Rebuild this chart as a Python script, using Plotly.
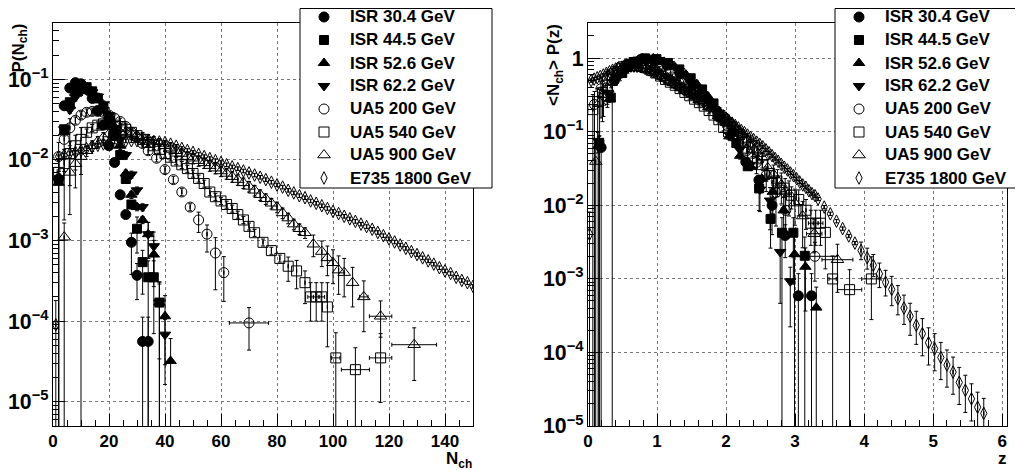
import plotly.graph_objects as go

# ---------------- data ----------------
SERIES = ["ISR 30.4 GeV", "ISR 44.5 GeV", "ISR 52.6 GeV", "ISR 62.2 GeV",
          "UA5 200 GeV", "UA5 540 GeV", "UA5 900 GeV", "E735 1800 GeV"]

isr304_n = [2, 4, 6, 8, 10, 12, 14, 16, 18, 20, 22, 24, 26, 28, 30, 32, 34]
isr304_p = [0.0058, 0.047, 0.078, 0.091, 0.088, 0.076, 0.058, 0.041, 0.027, 0.015,
            0.0093, 0.0037, 0.0021, 0.00095, 0.00037, 0.000056, 0.000056]

isr445_n = [2, 4, 6, 8, 10, 12, 14, 16, 18, 20, 22, 24, 26, 28, 30, 32, 34, 36, 38]
isr445_p = [0.0056, 0.024, 0.052, 0.073, 0.082, 0.080, 0.071, 0.058, 0.044, 0.031,
            0.020, 0.0115, 0.0058, 0.0028, 0.0014, 0.00054, 0.00035, 0.00035, 0.00017]

isr526_n = [2, 4, 6, 8, 10, 12, 14, 16, 18, 20, 22, 24, 26, 28, 30, 32, 34, 36, 38, 40, 42]
isr526_p = [0.0052, 0.022, 0.047, 0.068, 0.078, 0.078, 0.070, 0.059, 0.047, 0.035,
            0.024, 0.015, 0.0068, 0.0037, 0.0026, 0.0018, 0.0012, 0.00067, 0.00017,
            0.000115, 0.000032]

isr622_n = [2, 4, 6, 8, 10, 12, 14, 16, 18, 20, 22, 24, 26, 28, 30, 32, 34, 36, 38, 40]
isr622_p = [0.0055, 0.024, 0.042, 0.060, 0.070, 0.073, 0.069, 0.061, 0.049, 0.036,
            0.025, 0.018, 0.0115, 0.0066, 0.0042, 0.0026, 0.0012, 0.00085, 0.00017,
            0.000068]

ua5200_n = [2, 4, 6, 8, 10, 12, 14, 16, 18, 20, 22, 24, 26, 28, 30, 32, 34, 37, 40,
            43, 46, 49, 52, 55, 58, 61, 70]
ua5200_p = [0.011, 0.018, 0.025, 0.031, 0.036, 0.039, 0.040, 0.040, 0.039, 0.036,
            0.033, 0.030, 0.026, 0.022, 0.019, 0.016, 0.013, 0.0105, 0.0076, 0.0057,
            0.0040, 0.0026, 0.0018, 0.0012, 0.0007, 0.0004, 0.000095]

ua5540_n = [2, 4, 6, 8, 10, 12, 14, 16, 18, 20, 22, 24, 26, 28, 30, 32, 34, 36, 38,
            40, 42, 44, 46, 48, 50, 52, 54, 56, 58, 60, 62, 64, 66, 68, 70, 72, 75,
            78, 81, 84, 87, 90, 92, 94, 96, 98, 101, 108, 117]
ua5540_p = [0.007, 0.009, 0.012, 0.015, 0.018, 0.022, 0.025, 0.027, 0.028, 0.028,
            0.027, 0.026, 0.024, 0.022, 0.020, 0.018, 0.0165, 0.015, 0.0135, 0.012,
            0.0108, 0.0097, 0.0087, 0.0078, 0.0068, 0.0059, 0.0051, 0.0040, 0.0035,
            0.0031, 0.0028, 0.0025, 0.0021, 0.0018, 0.0015, 0.00125, 0.00095,
            0.00075, 0.0006, 0.00048, 0.00042, 0.0003, 0.0002, 0.0002, 0.0002,
            0.00015, 0.000035, 0.000025, 0.000035]

ua5900_n = [4, 6, 8, 10, 12, 14, 16, 18, 20, 22, 24, 26, 28, 30, 32, 34, 36, 38, 40,
            42, 44, 46, 48, 50, 52, 54, 56, 58, 60, 62, 64, 66, 68, 70, 72, 74, 76,
            78, 80, 82, 84, 86, 88, 90, 93, 96, 98, 100, 102, 104, 107, 111, 117, 129]
ua5900_p = [0.0011, 0.007, 0.009, 0.011, 0.013, 0.015, 0.017, 0.019, 0.021, 0.022,
            0.022, 0.022, 0.021, 0.020, 0.019, 0.018, 0.017, 0.016, 0.015, 0.014,
            0.013, 0.012, 0.011, 0.0105, 0.0098, 0.0092, 0.0085, 0.0079, 0.0073,
            0.0068, 0.0062, 0.0057, 0.0052, 0.0047, 0.0042, 0.0037, 0.0033, 0.0029,
            0.0026, 0.0022, 0.0019, 0.0016, 0.0014, 0.00125, 0.0009, 0.00073,
            0.00061, 0.00053, 0.00043, 0.0004, 0.0003, 0.0002, 0.000115, 0.000051]

e735_n = [1, 2, 4, 6, 8, 10, 12, 14, 16, 18, 20, 22, 24, 26, 28, 30, 32, 34, 36, 38,
          40, 42, 44, 46, 48, 50, 52, 54, 56, 58, 60, 62, 64, 66, 68, 70, 72, 74, 76,
          78, 80, 82, 84, 86, 88, 90, 92, 94, 96, 98, 100, 102, 104, 106, 108, 110,
          112, 114, 116, 118, 120, 122, 124, 126, 128, 130, 132, 134, 136, 138, 140,
          142, 144, 146, 148, 150, 154, 158, 162, 166, 170, 174, 178, 182, 186, 190,
          194, 198, 202, 206, 210, 214, 218, 222, 226, 230, 234, 238, 242, 246, 250,
          254, 258]
e735_p = [9.0e-5, 0.0110, 0.0115, 0.0120, 0.0125, 0.0131, 0.0138, 0.0145, 0.0152,
          0.0158, 0.0163, 0.0167, 0.0170, 0.0172, 0.0173, 0.0173, 0.0172, 0.0171,
          0.0169, 0.0167, 0.0165, 0.0157, 0.0148, 0.0139, 0.0131, 0.0124, 0.0117,
          0.0110, 0.0104, 0.0098, 0.0093, 0.0087, 0.0082, 0.0078, 0.0073, 0.0069,
          0.0065, 0.0061, 0.0057, 0.0053, 0.0049, 0.0046, 0.0042, 0.0039, 0.0036,
          0.0034, 0.0031, 0.0029, 0.0027, 0.0025, 0.0023, 0.00216, 0.00200, 0.00186,
          0.00173, 0.00160, 0.00149, 0.00138, 0.00126, 0.00115, 0.00105, 0.00096,
          0.00088, 0.00080, 0.00073, 0.00067, 0.00061, 0.00056, 0.00051, 0.00046,
          0.00042, 0.00039, 0.00035, 0.00032, 0.00030, 0.00027, 2.1e-4, 1.7e-4,
          1.35e-4, 1.07e-4, 8.5e-5, 6.8e-5, 5.4e-5, 4.3e-5, 3.4e-5, 2.6e-5, 2.0e-5,
          1.6e-5, 1.2e-5, 8.9e-6, 6.9e-6, 5.2e-6, 4.0e-6, 3.0e-6, 2.5e-6, 1.9e-6,
          1.5e-6, 1.2e-6, 8.7e-7, 6.8e-7, 5.2e-7, 4.0e-7, 3.3e-7]

# mean charged multiplicity of each sample (used for the KNO variables)
mean_nch = [10.5, 12.1, 12.7, 13.65, 21.3, 28.5, 35.7, 45.0]

# typical relative error, and (lower, upper) relative errors where they differ
default_rel_err = [0.1, 0.1, 0.1, 0.1, 0.1, 0.1, 0.15, 0.05]
rel_err_isr304 = {2: (1.0, 0.3), 28: (0.6, 0.3), 30: (0.5, 0.4), 32: (1.0, 1.0), 34: (1.0, 1.0)}
rel_err_isr445 = {2: (1.0, 0.3), 30: (0.5, 0.4), 32: (0.6, 0.4), 34: (1.0, 0.6), 36: (0.8, 0.6), 38: (1.0, 0.8)}
rel_err_isr526 = {2: (1.0, 0.3), 34: (0.5, 0.4), 36: (0.6, 0.5), 38: (1.0, 0.8), 40: (0.75, 0.8), 42: (1.0, 0.9)}
rel_err_isr622 = {2: (1.0, 0.3), 34: (0.5, 0.4), 36: (0.6, 0.5), 38: (0.8, 0.7), 40: (0.76, 0.55)}
rel_err_ua5200 = {2: (1.0, 0.5), 4: (0.6, 0.4), 6: (0.4, 0.3), 52: (0.3, 0.25), 55: (0.4, 0.3),
                  58: (0.65, 0.55), 61: (0.56, 0.58), 70: (0.54, 0.55)}
rel_err_ua5540 = {2: (1.0, 0.6), 4: (0.8, 0.5), 6: (0.6, 0.4), 8: (0.5, 0.35), 10: (1.0, 0.4),
                  84: (0.35, 0.3), 87: (0.4, 0.35), 90: (0.45, 0.4), 92: (0.5, 0.5), 94: (0.5, 0.5),
                  96: (0.5, 0.5), 98: (0.68, 1.0), 101: (1.0, 1.05), 108: (1.0, 0.87), 117: (0.72, 1.0)}
rel_err_ua5900 = {4: (1.0, 0.5), 6: (0.7, 0.5), 8: (0.5, 0.4), 10: (0.4, 0.3), 93: (0.3, 0.3),
                  96: (0.35, 0.35), 98: (0.4, 0.4), 100: (0.45, 0.45), 102: (0.5, 0.5),
                  104: (0.5, 0.5), 107: (0.5, 0.55), 111: (0.63, 0.58), 117: (0.45, 0.55),
                  129: (0.64, 0.62)}
rel_err_e735 = {1: (1.0, 1.0), 178: (0.25, 0.3), 182: (0.3, 0.35), 186: (0.3, 0.4),
                190: (0.35, 0.4), 194: (0.35, 0.45), 198: (0.4, 0.5), 202: (0.4, 0.5),
                206: (0.4, 0.5), 210: (0.45, 0.5), 214: (0.45, 0.55), 218: (0.5, 0.6),
                222: (0.5, 0.6), 226: (0.5, 0.6), 230: (0.5, 0.6), 234: (0.5, 0.6),
                238: (0.5, 0.6), 242: (0.5, 0.6), 246: (0.5, 0.6), 250: (0.5, 0.6),
                254: (0.5, 0.6), 258: (0.5, 0.6)}
# horizontal (bin half-width) errors in N_ch
xerr_ua5200 = {70: 7}
xerr_ua5540 = {92: 1, 94: 1, 96: 1, 101: 1.5, 108: 5, 117: 4}
xerr_ua5900 = {111: 1.5, 117: 4, 129: 8}

DATA = [
    (isr304_n, isr304_p, rel_err_isr304, {}),
    (isr445_n, isr445_p, rel_err_isr445, {}),
    (isr526_n, isr526_p, rel_err_isr526, {}),
    (isr622_n, isr622_p, rel_err_isr622, {}),
    (ua5200_n, ua5200_p, rel_err_ua5200, xerr_ua5200),
    (ua5540_n, ua5540_p, rel_err_ua5540, xerr_ua5540),
    (ua5900_n, ua5900_p, rel_err_ua5900, xerr_ua5900),
    (e735_n, e735_p, rel_err_e735, {}),
]

# ---------------- styles / layout helpers ----------------
SYMBOLS = ["circle", "square", "triangle-up", "triangle-down",
           "circle-open", "square-open", "triangle-up-open", "diamond-tall-open"]
SIZES = [10, 9, 10, 10, 10, 10, 11, 9]
FONT = "Liberation Sans"

OFF = 8                      # the page body margin the figure is drawn inside
FW, FH = 1023 - OFF, 470 - OFF


def fx(page_x):
    return (page_x - OFF) / FW


def fy(page_y):
    return 1 - (page_y - OFF) / FH


fig = go.Figure()

for k, name in enumerate(SERIES):
    n, p, errs, xerrs = DATA[k]
    d = default_rel_err[k]
    for panel in (0, 1):
        m = mean_nch[k] if panel == 1 else 1.0
        xs = [v / m for v in n]
        ys = [v * m for v in p]
        lo = [y * errs.get(nn, (d, d))[0] for y, nn in zip(ys, n)]
        hi = [y * errs.get(nn, (d, d))[1] for y, nn in zip(ys, n)]
        xe = [xerrs.get(nn, 0) / m for nn in n]
        fig.add_trace(go.Scatter(
            x=xs, y=ys, mode="markers", name=name, showlegend=False,
            xaxis="x" if panel == 0 else "x2",
            yaxis="y" if panel == 0 else "y2",
            marker=dict(symbol=SYMBOLS[k], size=SIZES[k], color="black",
                        line=dict(color="black", width=1)),
            error_y=dict(type="data", symmetric=False, array=hi, arrayminus=lo,
                         color="black", thickness=1, width=2),
            error_x=dict(type="data", array=xe, color="black", thickness=1, width=2),
        ))

# ---------------- legend boxes (drawn on an overlay pixel axis) ----------------
LEG_BOXES = [(300, 492), (835, 1022.5)]        # page x extent of each box
LEG_TOP, LEG_BOTTOM = 8.5, 188
LEG_ROWS = [17, 40, 63, 86, 109, 132, 155, 178]
LEG_MARK_DX, LEG_TEXT_DX = 24, 48

for (x0, x1) in LEG_BOXES:
    fig.add_trace(go.Scatter(
        x=[x0 - OFF, x1 - OFF, x1 - OFF, x0 - OFF, x0 - OFF],
        y=[LEG_TOP - OFF, LEG_TOP - OFF, LEG_BOTTOM - OFF, LEG_BOTTOM - OFF, LEG_TOP - OFF],
        mode="lines", fill="toself", fillcolor="white",
        line=dict(color="black", width=1), showlegend=False, hoverinfo="skip",
        xaxis="x3", yaxis="y3", cliponaxis=False))
    for k, name in enumerate(SERIES):
        fig.add_trace(go.Scatter(
            x=[x0 + LEG_MARK_DX - OFF], y=[LEG_ROWS[k] - OFF], mode="markers",
            marker=dict(symbol=SYMBOLS[k], size=SIZES[k], color="black",
                        line=dict(color="black", width=1)),
            showlegend=False, hoverinfo="skip", xaxis="x3", yaxis="y3",
            cliponaxis=False))
        fig.add_annotation(text=name, xref="paper", yref="paper",
                           x=fx(x0 + LEG_TEXT_DX), y=fy(LEG_ROWS[k]),
                           xanchor="left", yanchor="middle", showarrow=False,
                           font=dict(family=FONT, size=17, color="black", weight="bold"))

tickfont = dict(family=FONT, size=17, color="black", weight="bold")
common_x = dict(ticks="inside", ticklen=12, tickcolor="black", showline=True,
                linecolor="black", linewidth=1, mirror=True, showgrid=True,
                gridcolor="#777", griddash="dot", gridwidth=1, zeroline=False,
                tickfont=tickfont, automargin=False)
common_y = dict(type="log", dtick=1, exponentformat="power", ticks="inside",
                ticklen=12, tickcolor="black", showline=True, linecolor="black",
                linewidth=1, mirror=True, showgrid=True, gridcolor="#777",
                griddash="dot", gridwidth=1, zeroline=False, tickfont=tickfont,
                automargin=False,
                minor=dict(ticks="inside", ticklen=6, tickcolor="black", dtick="D1",
                           showgrid=False))

fig.update_layout(
    width=FW, height=FH, margin=dict(l=0, r=0, t=0, b=0, autoexpand=False),
    paper_bgcolor="white", plot_bgcolor="rgba(0,0,0,0)",
    xaxis=dict(domain=[fx(53), fx(473)], range=[0, 150], dtick=20,
               minor=dict(ticks="inside", ticklen=6, tickcolor="black", dtick=5,
                          showgrid=False), anchor="y", **common_x),
    yaxis=dict(domain=[fy(426), fy(23)], range=[-5.301, -0.301],
               anchor="x", **common_y),
    xaxis2=dict(domain=[fx(588), fx(1007)], range=[0, 6.07], dtick=1,
                minor=dict(ticks="inside", ticklen=6, tickcolor="black", dtick=0.2,
                           showgrid=False), anchor="y2", **common_x),
    yaxis2=dict(domain=[fy(426), fy(23)], range=[-5, 0.477],
                anchor="x2", **common_y),
    xaxis3=dict(domain=[0, 1], range=[0, FW], visible=False, anchor="y3",
                showgrid=False, zeroline=False, fixedrange=True),
    yaxis3=dict(domain=[0, 1], range=[FH, 0], visible=False, anchor="x3",
                showgrid=False, zeroline=False, fixedrange=True),
    showlegend=False,
)

title_font = dict(family=FONT, size=17, color="black", weight="bold")
fig.add_annotation(text="P(N<sub>ch</sub>)", xref="paper", yref="paper",
                   x=fx(20), y=fy(22), xanchor="center", yanchor="top",
                   textangle=-90, showarrow=False, font=title_font)
fig.add_annotation(text="N<sub>ch</sub>", xref="paper", yref="paper",
                   x=fx(474), y=fy(447), xanchor="right", yanchor="top",
                   showarrow=False, font=title_font)
fig.add_annotation(text="&lt;N<sub>ch</sub>&gt; P(z)", xref="paper", yref="paper",
                   x=fx(555), y=fy(22), xanchor="center", yanchor="top",
                   textangle=-90, showarrow=False, font=title_font)
fig.add_annotation(text="z", xref="paper", yref="paper",
                   x=fx(1009), y=fy(447), xanchor="right", yanchor="top",
                   showarrow=False, font=title_font)

fig.write_html("out.html")
